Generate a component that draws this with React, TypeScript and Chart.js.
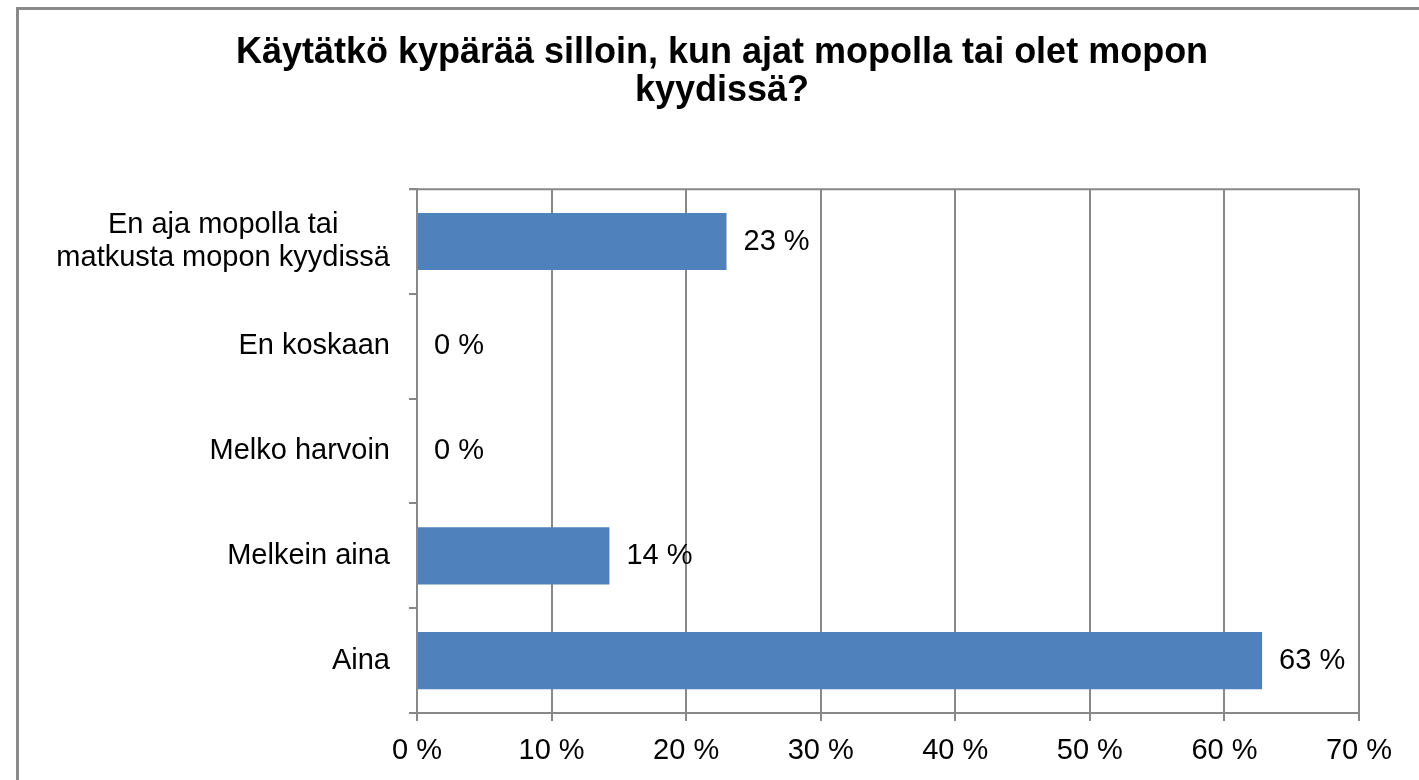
import { useEffect, useRef } from "react";
import { Chart, registerables } from "chart.js";

Chart.register(...registerables);

const FONT = "'Liberation Sans', Arial, sans-serif";

const titleLines = ["Käytätkö kypärää silloin, kun ajat mopolla tai olet mopon", "kyydissä?"];
const categories: (string | string[])[] = [
  ["En aja mopolla tai", "matkusta mopon kyydissä"],
  "En koskaan",
  "Melko harvoin",
  "Melkein aina",
  "Aina",
];
const values = [23.0, 0, 0, 14.3, 62.8];
const xMin = 0;
const xMax = 70;
const xStep = 10;

const GRID = "#888888";
const BAR = "#4F81BD";

const labelPlugin = {
  id: "catLabels",
  afterDraw(chart: any) {
    const ctx = chart.ctx;
    const yScale = chart.scales.y;
    const area = chart.chartArea;
    ctx.save();
    ctx.font = `29px ${FONT}`;
    ctx.fillStyle = "#000";
    ctx.textAlign = "center";
    ctx.textBaseline = "middle";
    const right = area.left - 27;
    categories.forEach((c, i) => {
      const lines = Array.isArray(c) ? c : [c];
      const w = Math.max(...lines.map((l) => ctx.measureText(l).width));
      const cy = yScale.getPixelForValue(i);
      lines.forEach((l, k) => {
        ctx.fillText(l, right - w / 2, cy + (k - (lines.length - 1) / 2) * 33);
      });
    });
    // top border of plot area
    ctx.strokeStyle = GRID;
    ctx.lineWidth = 2;
    ctx.beginPath();
    ctx.moveTo(area.left - 8, area.top);
    ctx.lineTo(area.right + 1, area.top);
    ctx.stroke();
    // data labels
    const meta = chart.getDatasetMeta(0);
    ctx.textAlign = "left";
    meta.data.forEach((bar: any, i: number) => {
      ctx.fillText(`${Math.round(values[i])} %`, bar.x + 17, bar.y);
    });
    ctx.restore();
  },
};

export default function App() {
  const ref = useRef<HTMLCanvasElement | null>(null);
  useEffect(() => {
    if (!ref.current) return;
    const chart = new Chart(ref.current, {
      type: "bar",
      data: {
        labels: categories as any,
        datasets: [
          {
            data: values,
            backgroundColor: BAR,
            borderWidth: 0,
            barPercentage: 1,
            categoryPercentage: 0.545,
          },
        ],
      },
      options: {
        indexAxis: "y",
        animation: false,
        responsive: false,
        devicePixelRatio: 1,
        layout: { padding: { left: 85, right: 60, top: 0, bottom: 0 } },
        plugins: {
          legend: { display: false },
          tooltip: { enabled: false },
          title: {
            display: true,
            text: titleLines,
            color: "#000",
            font: { family: FONT, size: 36, weight: "bold", lineHeight: 1.03 },
            padding: { top: 35, bottom: 80 },
          },
        },
        scales: {
          x: {
            min: xMin,
            max: xMax,
            ticks: {
              stepSize: xStep,
              color: "#000",
              font: { family: FONT, size: 29 },
              padding: 13,
              maxRotation: 0,
              callback: (v: any) => `${v} %`,
            },
            grid: { color: GRID, lineWidth: 2, tickLength: 8, tickColor: GRID },
            border: { display: true, color: GRID, width: 2 },
            afterFit: (s: any) => {
              s.height = 67;
            },
          },
          y: {
            ticks: { display: false },
            grid: {
              offset: true,
              drawOnChartArea: false,
              drawTicks: true,
              tickLength: 8,
              color: GRID,
              lineWidth: 2,
            },
            border: { display: true, color: GRID, width: 2 },
            afterFit: (s: any) => {
              s.width = 417 - 85;
            },
          },
        },
      },
      plugins: [labelPlugin],
    });
    return () => chart.destroy();
  }, []);

  return (
    <div
      style={{
        position: "fixed",
        left: 0,
        top: 0,
        width: 1419,
        height: 780,
        overflow: "hidden",
        background: "#fff",
      }}
    >
      <div
        style={{
          position: "absolute",
          left: 16,
          top: 7,
          width: 1440,
          height: 800,
          borderLeft: "3px solid #8a8a8a",
          borderTop: "3px solid #8a8a8a",
        }}
      />
      <canvas
        ref={ref}
        width={1419}
        height={780}
        style={{ position: "absolute", left: 0, top: 0, width: 1419, height: 780 }}
      />
    </div>
  );
}
